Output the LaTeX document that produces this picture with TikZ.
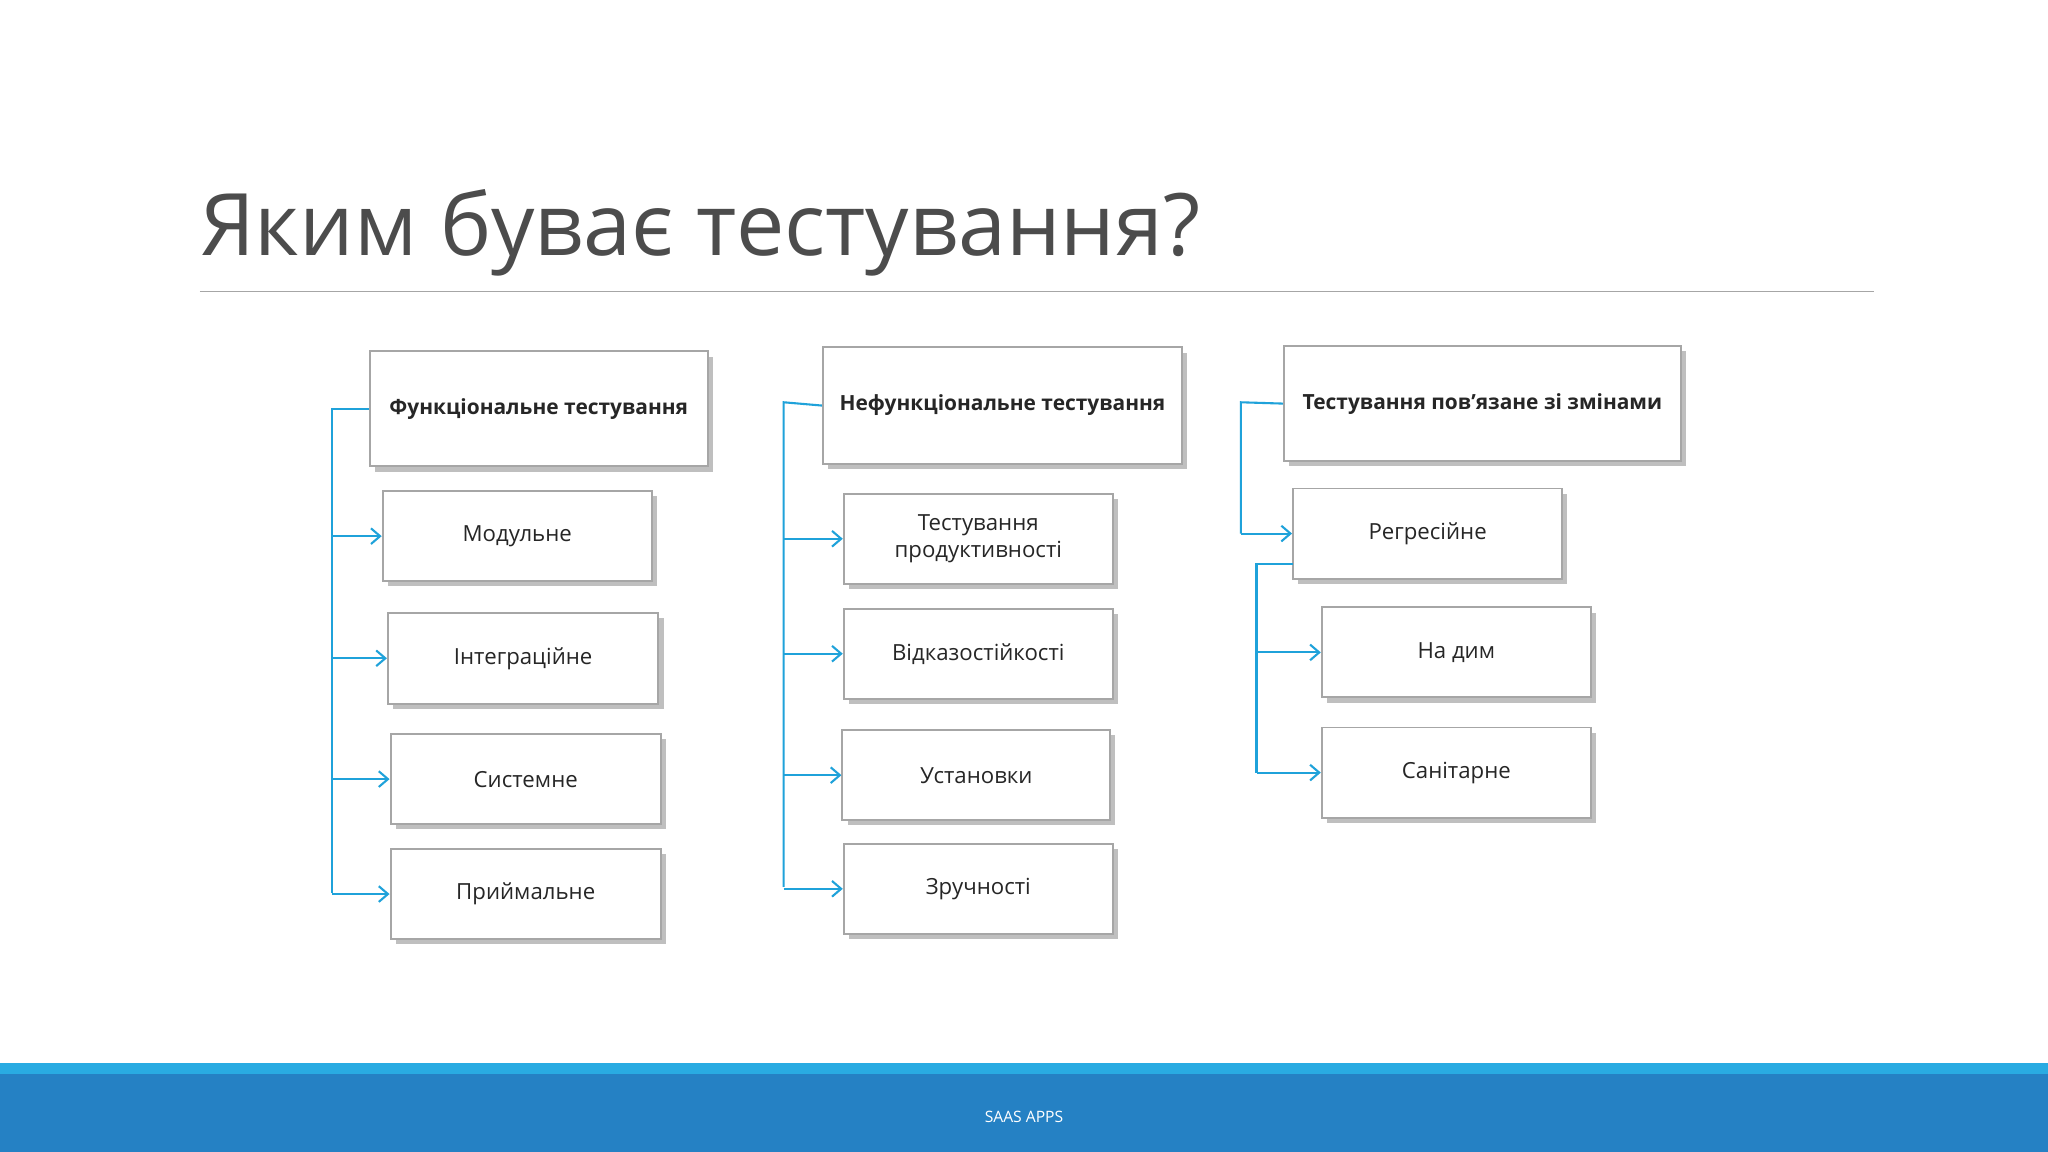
\documentclass[tikz,border=0pt]{standalone}
\usepackage{fontspec}
\setmainfont{Open Sans}
\usetikzlibrary{arrows.meta}
\definecolor{lblue}{HTML}{29ABE2}
\definecolor{dblue}{HTML}{2581C4}
\definecolor{conn}{HTML}{1FA2DA}
\tikzset{
 bx/.style={draw=gray!70,line width=1.5pt,fill=white,align=center,font=\fontsize{17}{21}\selectfont,text=black!85,
   minimum width=#1,inner sep=0pt},
 sh/.style={fill=gray!50},
 ln/.style={draw=conn,line width=1.6pt},
 ar/.style={ln,-{Straight Barb[length=7pt,width=12pt,line width=1.6pt]}}
}
\newcommand{\hb}[1]{{\fontsize{16}{20}\selectfont\bfseries #1}}
\newcommand{\mybox}[6]{% name, x1,y1,x2,y2, text
 \fill[sh] (#2+4,#3+4) rectangle (#4+4,#5+4);
 \node[bx=0pt,minimum width={(#4-#2)*1pt},minimum height={(#5-#3)*1pt}] (#1) at ({(#2+#4)/2},{(#3+#5)/2}) {#6};}
\begin{document}
\begin{tikzpicture}[x=1pt,y=-1pt]
\useasboundingbox (0,0) rectangle (1568,882);
\fill[white] (0,0) rectangle (1568,882);
\node[anchor=base west,inner sep=0pt,font=\fontsize{66}{70}\selectfont,text=black!70] (title) at (153,196) {Яким буває тестування?};
\draw[gray!70,line width=1pt] (153,223) -- (1435,223);
\fill[lblue] (0,814) rectangle (1568,822);
\fill[dblue] (0,822) rectangle (1568,882);
\node[text=white,font=\fontsize{12}{14}\selectfont] (foot) at (784,855) {SAAS APPS};
% column 1
\mybox{h1}{283}{269}{542}{357}{\hb{Функціональне тестування}}
\mybox{a1}{293}{376}{499}{445}{Модульне}
\mybox{a2}{297}{469}{504}{539}{Інтеграційне}
\mybox{a3}{299}{562}{506}{631}{Системне}
\mybox{a4}{299}{650}{506}{719}{Приймальне}
\coordinate (c1t) at (254,313);
\draw[ln] (h1.west) -- (c1t) -- (254,684);
\foreach \n in {a1,a2,a3,a4} \draw[ar] (254,0 |- \n.west) -- (\n.west);
% column 2
\mybox{h2}{630}{266}{905}{355}{\hb{Нефункціональне тестування}}
\mybox{b1}{646}{378}{852}{447}{Тестування\\продуктивності}
\mybox{b2}{646}{466}{852}{535}{Відказостійкості}
\mybox{b3}{645}{559}{850}{628}{Установки}
\mybox{b4}{646}{646}{852}{715}{Зручності}
\coordinate (c2t) at (600,308);
\draw[ln] (h2.west) -- (c2t) -- (600,679);
\foreach \n in {b1,b2,b3,b4} \draw[ar] (600,0 |- \n.west) -- (\n.west);
% column 3
\mybox{h3}{983}{265}{1287}{353}{\hb{Тестування пов’язане зі змінами}}
\mybox{r1}{990}{374}{1196}{443}{Регресійне}
\mybox{r2}{1012}{465}{1218}{534}{На дим}
\mybox{r3}{1012}{557}{1218}{626}{Санітарне}
\coordinate (c3t) at (950,308);
\draw[ln] (h3.west) -- (c3t) -- (950,0 |- r1.west);
\draw[ar] (950,0 |- r1.west) -- (r1.west);
\coordinate (c4t) at (962,432);
\draw[ln] (990,432) -- (c4t) -- (962,0 |- r3.west);
\foreach \n in {r2,r3} \draw[ar] (962,0 |- \n.west) -- (\n.west);
\end{tikzpicture}
\end{document}
